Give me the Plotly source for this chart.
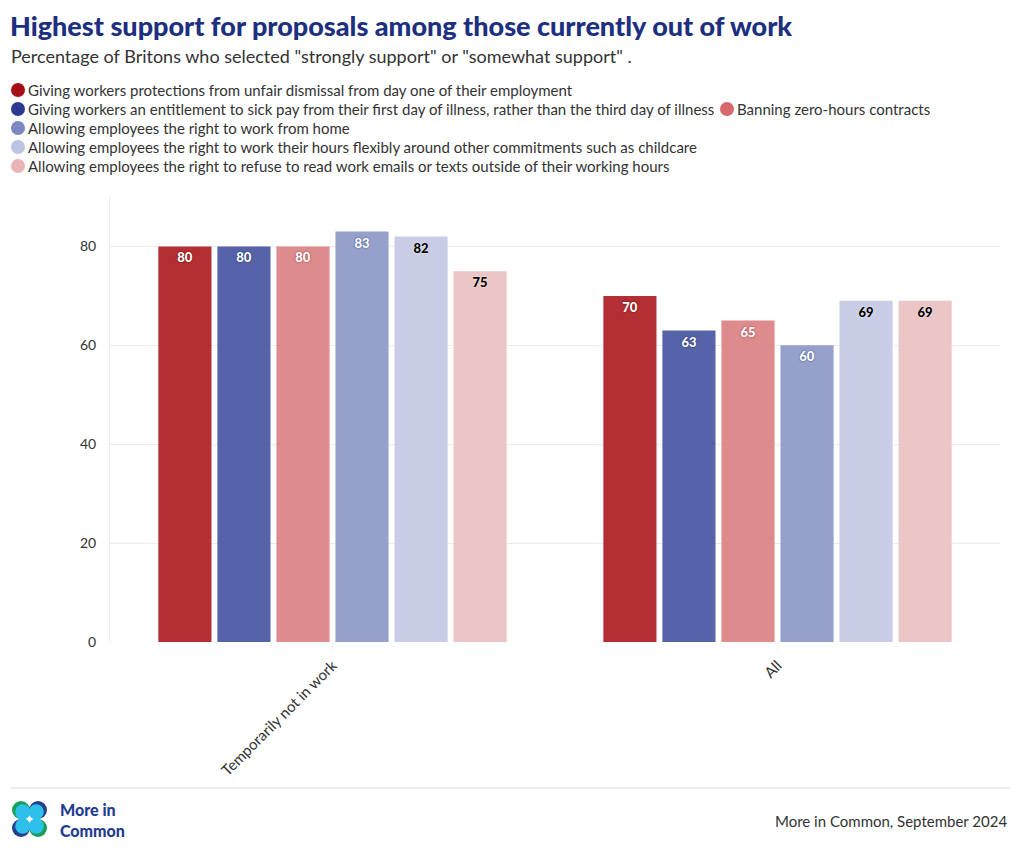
import plotly.graph_objects as go

categories = ["Temporarily not in work", "All"]
series_names = [
    "Giving workers protections from unfair dismissal from day one of their employment",
    "Giving workers an entitlement to sick pay from their first day of illness, rather than the third day of illness",
    "Banning zero-hours contracts",
    "Allowing employees the right to work from home",
    "Allowing employees the right to work their hours flexibly around other commitments such as childcare",
    "Allowing employees the right to refuse to read work emails or texts outside of their working hours",
]
unfair_dismissal = [80, 70]
sick_pay = [80, 63]
zero_hours = [80, 65]
work_from_home = [83, 60]
flexible_hours = [82, 69]
refuse_emails = [75, 69]
series_values = [unfair_dismissal, sick_pay, zero_hours, work_from_home, flexible_hours, refuse_emails]
y_ticks = [0, 20, 40, 60, 80]

bar_colors = ["#b32f33", "#5663a9", "#de8b8d", "#95a1cb", "#c8cde5", "#ecc5c6"]
legend_colors = ["#a50f15", "#2b3a90", "#d9686b", "#7b88c2", "#bdc3e2", "#e9b4b5"]
label_colors = ["white", "white", "white", "white", "black", "black"]
label_shadows = ["0px 0px 2px #5a0a0a", "0px 0px 2px #1b2460", "0px 0px 2px #8a3a3c",
                 "0px 0px 2px #3a4380", "0px 0px 2px white", "0px 0px 2px white"]

FONT = "Lato"
OFF = 8  # page body margin
W, H = 1020 - 2 * OFF, 856 - 2 * OFF
# plot area in page pixels: x 110..1000, y 197..642
ML, MR, MT, MB = 110 - OFF, 1012 - 1000, 197 - OFF, 848 - 642
PW, PH = W - ML - MR, H - MT - MB


def px(x):
    return (x - OFF - ML) / PW


def py(y):
    return (H - MB - (y - OFF)) / PH


fig = go.Figure()
for name, vals, c, lc, sh in zip(series_names, series_values, bar_colors, label_colors, label_shadows):
    fig.add_trace(go.Bar(
        x=categories, y=vals, name=name, marker=dict(color=c, line=dict(width=0)),
        text=[str(v) for v in vals], textposition="inside", insidetextanchor="end",
        textangle=0,
        insidetextfont=dict(family=FONT, size=13, color=lc, weight=900, shadow=sh),
        showlegend=False, hoverinfo="x+y",
    ))

ann = []
ann.append(dict(text="Highest support for proposals among those currently out of work",
                x=px(9), y=py(8), xref="paper", yref="paper", xanchor="left", yanchor="top",
                borderpad=0, showarrow=False,
                font=dict(family=FONT, size=27, color="#1c2f80", weight=900)))
ann.append(dict(text='Percentage of Britons who selected "strongly support" or "somewhat support" .',
                x=px(9), y=py(56), xref="paper", yref="paper", xanchor="left", yanchor="middle",
                showarrow=False, font=dict(family=FONT, size=18, color="#333333")))

legend_pos = [(18, 90), (18, 109), (727, 109), (18, 128), (18, 147), (18, 166)]
for name, c, (lx, ly) in zip(series_names, legend_colors, legend_pos):
    fig.add_shape(type="circle", xref="paper", yref="paper",
                  x0=px(lx - 7), x1=px(lx + 7), y0=py(ly + 7), y1=py(ly - 7),
                  fillcolor=c, line=dict(width=0))
    ann.append(dict(text=name, x=px(lx + 8), y=py(ly), xref="paper", yref="paper",
                    xanchor="left", yanchor="middle", showarrow=False,
                    font=dict(family=FONT, size=15, color="#333333")))

# footer
fig.add_shape(type="line", xref="paper", yref="paper", x0=px(10), x1=px(1010), y0=py(788), y1=py(788),
              line=dict(color="#dddddd", width=1))
ann.append(dict(text="More in Common, September 2024", x=px(1009), y=py(821), xref="paper", yref="paper",
                xanchor="right", yanchor="middle", showarrow=False,
                font=dict(family=FONT, size=15, color="#333333")))
for txt, ty, ya in [("More in", 820, "bottom"), ("Common", 820, "top")]:
    ann.append(dict(text=txt, x=px(59), y=py(ty), xref="paper", yref="paper",
                    xanchor="left", yanchor=ya, showarrow=False, align="left", borderpad=0,
                    font=dict(family=FONT, size=16, color="#1f3c8f", weight=900)))
# logo circles (outer colour + cyan inner offset to the centre)
cxm, cym = 29.5, 819
logo = [(21, 810, "#17a05a"), (38, 810, "#25408f"), (21, 828, "#25408f"), (38, 828, "#17a05a")]
for cx, cy, col in logo:
    fig.add_shape(type="circle", xref="paper", yref="paper",
                  x0=px(cx - 9), x1=px(cx + 9), y0=py(cy + 9), y1=py(cy - 9),
                  fillcolor=col, line=dict(width=0), layer="above")
for cx, cy, col in logo:
    ix = cx + (1.8 if cx < cxm else -1.8)
    iy = cy + (1.8 if cy < cym else -1.8)
    fig.add_shape(type="circle", xref="paper", yref="paper",
                  x0=px(ix - 7.6), x1=px(ix + 7.6), y0=py(iy + 7.6), y1=py(iy - 7.6),
                  fillcolor="#2cc0ea", line=dict(width=0), layer="above")

fig.update_layout(
    width=W, height=H, margin=dict(l=ML, r=MR, t=MT, b=MB, autoexpand=False),
    paper_bgcolor="white", plot_bgcolor="white",
    barmode="group", bargap=0.204, bargroupgap=0.1,
    annotations=ann,
    font=dict(family=FONT, color="#333333"),
    xaxis=dict(tickangle=-45, tickfont=dict(family=FONT, size=15, color="#333333"),
               ticks="outside", ticklen=8, tickcolor="#eeeeee", showline=False, showgrid=False),
    yaxis=dict(range=[0, 90], tickvals=y_ticks, showgrid=True, gridcolor="#ebebeb", zeroline=False,
               tickfont=dict(family=FONT, size=14, color="#333333"),
               showline=True, linecolor="#ebebeb", ticks="", ticklabelstandoff=10),
)

fig.write_html("out.html")
